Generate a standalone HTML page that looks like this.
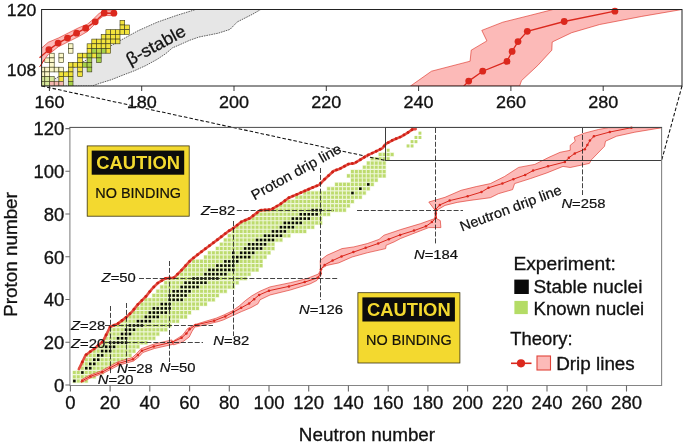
<!DOCTYPE html>
<html lang="en"><head><meta charset="utf-8"><title>Nuclear landscape</title>
<style>html,body{margin:0;padding:0;background:#fff}body{width:685px;height:446px;overflow:hidden}svg{display:block}text{font-family:'Liberation Sans', Arial, Helvetica, sans-serif;fill:#111;stroke:#111}</style></head><body>
<svg width="685" height="446" viewBox="0 0 685 446">
<rect width="685" height="446" fill="#fff"/>
<defs><clipPath id="kc"><polygon points="72,400 72,370.6 77.6,369.9 78.1,368.3 84.7,354.4 93.4,347.9 102.1,340.6 106.5,331.9 109.4,326 116.7,323.1 125.4,316.6 131.3,310.8 136.9,303.8 145.6,295.1 151.4,287.8 157.3,282 164.5,277.6 173.3,276.9 180.6,269.6 187.8,261.6 190.1,259.2 199.6,251.7 208.3,245.2 217.1,238.6 227.3,230.6 233.1,227 240.4,221.1 249.1,217.5 259.3,209.5 270.2,208.8 279,203.7 287.7,197.2 297.9,192.8 309.5,187.7 318.3,184.1 324.1,178.2 332.8,170.2 339.2,167.9 347.9,163.2 353.8,162.4 359.6,158.9 366.1,154.8 374.1,151.1 381.4,147.5 385.1,143.1 391.6,139.5 400.4,135.8 407.6,131.5 412,128.3 414.9,128.3 700,127 700,400"/></clipPath></defs>
<g id="known" clip-path="url(#kc)">
<path d="M72.4 381H88.3" stroke="#ebf5d0" stroke-width="4.3" fill="none"/>
<path d="M72.4 376.8H96.2" stroke="#ebf5d0" stroke-width="4.3" fill="none"/>
<path d="M72.4 372.5H104.2" stroke="#ebf5d0" stroke-width="4.3" fill="none"/>
<path d="M76.4 368.2H108.1" stroke="#ebf5d0" stroke-width="4.3" fill="none"/>
<path d="M80.3 363.9H120.1" stroke="#ebf5d0" stroke-width="4.3" fill="none"/>
<path d="M84.3 359.7H128" stroke="#ebf5d0" stroke-width="4.3" fill="none"/>
<path d="M84.3 355.4H132" stroke="#ebf5d0" stroke-width="4.3" fill="none"/>
<path d="M88.3 351.1H135.9" stroke="#ebf5d0" stroke-width="4.3" fill="none"/>
<path d="M92.2 346.8H139.9" stroke="#ebf5d0" stroke-width="4.3" fill="none"/>
<path d="M96.2 342.6H147.9" stroke="#ebf5d0" stroke-width="4.3" fill="none"/>
<path d="M100.2 338.3H155.8" stroke="#ebf5d0" stroke-width="4.3" fill="none"/>
<path d="M104.2 334H159.8" stroke="#ebf5d0" stroke-width="4.3" fill="none"/>
<path d="M108.1 329.7H167.7" stroke="#ebf5d0" stroke-width="4.3" fill="none"/>
<path d="M108.1 325.5H171.7" stroke="#ebf5d0" stroke-width="4.3" fill="none"/>
<path d="M116.1 321.2H179.6" stroke="#ebf5d0" stroke-width="4.3" fill="none"/>
<path d="M120 316.9H187.6" stroke="#ebf5d0" stroke-width="4.3" fill="none"/>
<path d="M128 312.6H191.5" stroke="#ebf5d0" stroke-width="4.3" fill="none"/>
<path d="M135.9 308.4H199.5" stroke="#ebf5d0" stroke-width="4.3" fill="none"/>
<path d="M139.9 304.1H207.4" stroke="#ebf5d0" stroke-width="4.3" fill="none"/>
<path d="M143.9 299.8H215.4" stroke="#ebf5d0" stroke-width="4.3" fill="none"/>
<path d="M151.8 295.5H219.3" stroke="#ebf5d0" stroke-width="4.3" fill="none"/>
<path d="M155.8 291.3H227.3" stroke="#ebf5d0" stroke-width="4.3" fill="none"/>
<path d="M159.8 287H235.2" stroke="#ebf5d0" stroke-width="4.3" fill="none"/>
<path d="M163.7 282.7H239.2" stroke="#ebf5d0" stroke-width="4.3" fill="none"/>
<path d="M167.7 278.5H247.2" stroke="#ebf5d0" stroke-width="4.3" fill="none"/>
<path d="M175.7 274.2H251.1" stroke="#ebf5d0" stroke-width="4.3" fill="none"/>
<path d="M179.6 269.9H259.1" stroke="#ebf5d0" stroke-width="4.3" fill="none"/>
<path d="M183.6 265.6H263" stroke="#ebf5d0" stroke-width="4.3" fill="none"/>
<path d="M191.5 261.4H263" stroke="#ebf5d0" stroke-width="4.3" fill="none"/>
<path d="M203.5 257.1H267" stroke="#ebf5d0" stroke-width="4.3" fill="none"/>
<path d="M207.4 252.8H271" stroke="#ebf5d0" stroke-width="4.3" fill="none"/>
<path d="M215.4 248.5H275" stroke="#ebf5d0" stroke-width="4.3" fill="none"/>
<path d="M219.4 244.3H275" stroke="#ebf5d0" stroke-width="4.3" fill="none"/>
<path d="M223.3 240H282.9" stroke="#ebf5d0" stroke-width="4.3" fill="none"/>
<path d="M227.3 235.7H290.8" stroke="#ebf5d0" stroke-width="4.3" fill="none"/>
<path d="M231.3 231.4H306.7" stroke="#ebf5d0" stroke-width="4.3" fill="none"/>
<path d="M235.2 227.2H314.7" stroke="#ebf5d0" stroke-width="4.3" fill="none"/>
<path d="M239.2 222.9H322.6" stroke="#ebf5d0" stroke-width="4.3" fill="none"/>
<path d="M243.2 218.6H322.6" stroke="#ebf5d0" stroke-width="4.3" fill="none"/>
<path d="M251.1 214.3H330.6" stroke="#ebf5d0" stroke-width="4.3" fill="none"/>
<path d="M259.1 210.1H346.5" stroke="#ebf5d0" stroke-width="4.3" fill="none"/>
<path d="M271 205.8H350.4" stroke="#ebf5d0" stroke-width="4.3" fill="none"/>
<path d="M282.9 201.5H354.4" stroke="#ebf5d0" stroke-width="4.3" fill="none"/>
<path d="M294.8 197.2H362.3" stroke="#ebf5d0" stroke-width="4.3" fill="none"/>
<path d="M302.8 193H366.3" stroke="#ebf5d0" stroke-width="4.3" fill="none"/>
<path d="M326.6 188.7H370.3" stroke="#ebf5d0" stroke-width="4.3" fill="none"/>
<path d="M334.5 184.4H374.3" stroke="#ebf5d0" stroke-width="4.3" fill="none"/>
<path d="M350.4 180.1H378.2" stroke="#ebf5d0" stroke-width="4.3" fill="none"/>
<path d="M346.5 175.9H386.2" stroke="#ebf5d0" stroke-width="4.3" fill="none"/>
<path d="M350.4 171.6H386.2" stroke="#ebf5d0" stroke-width="4.3" fill="none"/>
<path d="M362.3 167.3H386.2" stroke="#ebf5d0" stroke-width="4.3" fill="none"/>
<path d="M366.3 163.1H386.2" stroke="#ebf5d0" stroke-width="4.3" fill="none"/>
<path d="M370.3 158.8H390.1" stroke="#ebf5d0" stroke-width="4.3" fill="none"/>
<path d="M378.2 154.5H394.1" stroke="#ebf5d0" stroke-width="4.3" fill="none"/>
<path d="M72.9 381H87.7" stroke="#bddb6e" stroke-width="3.1" stroke-dasharray="2.850 1.122" fill="none"/>
<path d="M72.9 376.8H95.7" stroke="#bddb6e" stroke-width="3.1" stroke-dasharray="2.850 1.122" fill="none"/>
<path d="M72.9 372.5H103.6" stroke="#bddb6e" stroke-width="3.1" stroke-dasharray="2.850 1.122" fill="none"/>
<path d="M76.9 368.2H107.6" stroke="#bddb6e" stroke-width="3.1" stroke-dasharray="2.850 1.122" fill="none"/>
<path d="M80.9 363.9H119.5" stroke="#bddb6e" stroke-width="3.1" stroke-dasharray="2.850 1.122" fill="none"/>
<path d="M84.9 359.7H127.4" stroke="#bddb6e" stroke-width="3.1" stroke-dasharray="2.850 1.122" fill="none"/>
<path d="M84.9 355.4H131.4" stroke="#bddb6e" stroke-width="3.1" stroke-dasharray="2.850 1.122" fill="none"/>
<path d="M88.8 351.1H135.4" stroke="#bddb6e" stroke-width="3.1" stroke-dasharray="2.850 1.122" fill="none"/>
<path d="M92.8 346.8H139.3" stroke="#bddb6e" stroke-width="3.1" stroke-dasharray="2.850 1.122" fill="none"/>
<path d="M96.8 342.6H147.3" stroke="#bddb6e" stroke-width="3.1" stroke-dasharray="2.850 1.122" fill="none"/>
<path d="M100.8 338.3H155.2" stroke="#bddb6e" stroke-width="3.1" stroke-dasharray="2.850 1.122" fill="none"/>
<path d="M104.7 334H159.2" stroke="#bddb6e" stroke-width="3.1" stroke-dasharray="2.850 1.122" fill="none"/>
<path d="M108.7 329.7H167.2" stroke="#bddb6e" stroke-width="3.1" stroke-dasharray="2.850 1.122" fill="none"/>
<path d="M108.7 325.5H171.1" stroke="#bddb6e" stroke-width="3.1" stroke-dasharray="2.850 1.122" fill="none"/>
<path d="M116.6 321.2H179.1" stroke="#bddb6e" stroke-width="3.1" stroke-dasharray="2.850 1.122" fill="none"/>
<path d="M120.6 316.9H187" stroke="#bddb6e" stroke-width="3.1" stroke-dasharray="2.850 1.122" fill="none"/>
<path d="M128.6 312.6H191" stroke="#bddb6e" stroke-width="3.1" stroke-dasharray="2.850 1.122" fill="none"/>
<path d="M136.5 308.4H198.9" stroke="#bddb6e" stroke-width="3.1" stroke-dasharray="2.850 1.122" fill="none"/>
<path d="M140.5 304.1H206.9" stroke="#bddb6e" stroke-width="3.1" stroke-dasharray="2.850 1.122" fill="none"/>
<path d="M144.4 299.8H214.8" stroke="#bddb6e" stroke-width="3.1" stroke-dasharray="2.850 1.122" fill="none"/>
<path d="M152.4 295.5H218.8" stroke="#bddb6e" stroke-width="3.1" stroke-dasharray="2.850 1.122" fill="none"/>
<path d="M156.4 291.3H226.7" stroke="#bddb6e" stroke-width="3.1" stroke-dasharray="2.850 1.122" fill="none"/>
<path d="M160.3 287H234.7" stroke="#bddb6e" stroke-width="3.1" stroke-dasharray="2.850 1.122" fill="none"/>
<path d="M164.3 282.7H238.6" stroke="#bddb6e" stroke-width="3.1" stroke-dasharray="2.850 1.122" fill="none"/>
<path d="M168.3 278.5H246.6" stroke="#bddb6e" stroke-width="3.1" stroke-dasharray="2.850 1.122" fill="none"/>
<path d="M176.2 274.2H250.6" stroke="#bddb6e" stroke-width="3.1" stroke-dasharray="2.850 1.122" fill="none"/>
<path d="M180.2 269.9H258.5" stroke="#bddb6e" stroke-width="3.1" stroke-dasharray="2.850 1.122" fill="none"/>
<path d="M184.2 265.6H262.5" stroke="#bddb6e" stroke-width="3.1" stroke-dasharray="2.850 1.122" fill="none"/>
<path d="M192.1 261.4H262.5" stroke="#bddb6e" stroke-width="3.1" stroke-dasharray="2.850 1.122" fill="none"/>
<path d="M204 257.1H266.5" stroke="#bddb6e" stroke-width="3.1" stroke-dasharray="2.850 1.122" fill="none"/>
<path d="M208 252.8H270.4" stroke="#bddb6e" stroke-width="3.1" stroke-dasharray="2.850 1.122" fill="none"/>
<path d="M215.9 248.5H274.4" stroke="#bddb6e" stroke-width="3.1" stroke-dasharray="2.850 1.122" fill="none"/>
<path d="M219.9 244.3H274.4" stroke="#bddb6e" stroke-width="3.1" stroke-dasharray="2.850 1.122" fill="none"/>
<path d="M223.9 240H282.3" stroke="#bddb6e" stroke-width="3.1" stroke-dasharray="2.850 1.122" fill="none"/>
<path d="M227.9 235.7H290.3" stroke="#bddb6e" stroke-width="3.1" stroke-dasharray="2.850 1.122" fill="none"/>
<path d="M231.8 231.4H306.2" stroke="#bddb6e" stroke-width="3.1" stroke-dasharray="2.850 1.122" fill="none"/>
<path d="M235.8 227.2H314.1" stroke="#bddb6e" stroke-width="3.1" stroke-dasharray="2.850 1.122" fill="none"/>
<path d="M239.8 222.9H322.1" stroke="#bddb6e" stroke-width="3.1" stroke-dasharray="2.850 1.122" fill="none"/>
<path d="M243.7 218.6H322.1" stroke="#bddb6e" stroke-width="3.1" stroke-dasharray="2.850 1.122" fill="none"/>
<path d="M251.7 214.3H330" stroke="#bddb6e" stroke-width="3.1" stroke-dasharray="2.850 1.122" fill="none"/>
<path d="M259.6 210.1H345.9" stroke="#bddb6e" stroke-width="3.1" stroke-dasharray="2.850 1.122" fill="none"/>
<path d="M271.5 205.8H349.9" stroke="#bddb6e" stroke-width="3.1" stroke-dasharray="2.850 1.122" fill="none"/>
<path d="M283.5 201.5H353.8" stroke="#bddb6e" stroke-width="3.1" stroke-dasharray="2.850 1.122" fill="none"/>
<path d="M295.4 197.2H361.8" stroke="#bddb6e" stroke-width="3.1" stroke-dasharray="2.850 1.122" fill="none"/>
<path d="M303.3 193H365.8" stroke="#bddb6e" stroke-width="3.1" stroke-dasharray="2.850 1.122" fill="none"/>
<path d="M327.2 188.7H369.7" stroke="#bddb6e" stroke-width="3.1" stroke-dasharray="2.850 1.122" fill="none"/>
<path d="M335.1 184.4H373.7" stroke="#bddb6e" stroke-width="3.1" stroke-dasharray="2.850 1.122" fill="none"/>
<path d="M351 180.1H377.7" stroke="#bddb6e" stroke-width="3.1" stroke-dasharray="2.850 1.122" fill="none"/>
<path d="M347 175.9H385.6" stroke="#bddb6e" stroke-width="3.1" stroke-dasharray="2.850 1.122" fill="none"/>
<path d="M351 171.6H385.6" stroke="#bddb6e" stroke-width="3.1" stroke-dasharray="2.850 1.122" fill="none"/>
<path d="M362.9 167.3H385.6" stroke="#bddb6e" stroke-width="3.1" stroke-dasharray="2.850 1.122" fill="none"/>
<path d="M366.9 163.1H385.6" stroke="#bddb6e" stroke-width="3.1" stroke-dasharray="2.850 1.122" fill="none"/>
<path d="M370.8 158.8H389.6" stroke="#bddb6e" stroke-width="3.1" stroke-dasharray="2.850 1.122" fill="none"/>
<path d="M378.8 154.5H393.6" stroke="#bddb6e" stroke-width="3.1" stroke-dasharray="2.850 1.122" fill="none"/>
<rect x="386.7" y="148.7" width="2.9" height="3.1" fill="#bddb6e"/>
<rect x="406.6" y="144.4" width="2.9" height="3.1" fill="#bddb6e"/>
<rect x="410.6" y="144.4" width="2.9" height="3.1" fill="#bddb6e"/>
<rect x="410.6" y="140.1" width="2.9" height="3.1" fill="#bddb6e"/>
<rect x="414.5" y="140.1" width="2.9" height="3.1" fill="#bddb6e"/>
<rect x="414.5" y="135.9" width="2.9" height="3.1" fill="#bddb6e"/>
<rect x="418.5" y="135.9" width="2.9" height="3.1" fill="#bddb6e"/>
<rect x="418.5" y="131.6" width="2.9" height="3.1" fill="#bddb6e"/>
</g>
<g id="stable" fill="#0a0a0a">
<rect x="73.1" y="379.7" width="2.5" height="2.6"/>
<rect x="81.1" y="371.2" width="2.5" height="2.6"/>
<rect x="85" y="366.9" width="2.5" height="2.6"/>
<rect x="89" y="366.9" width="2.5" height="2.6"/>
<rect x="89" y="362.6" width="2.5" height="2.6"/>
<rect x="93" y="362.6" width="2.5" height="2.6"/>
<rect x="93" y="358.4" width="2.5" height="2.6"/>
<rect x="97" y="358.4" width="2.5" height="2.6"/>
<rect x="97" y="354.1" width="2.5" height="2.6"/>
<rect x="100.9" y="354.1" width="2.5" height="2.6"/>
<rect x="100.9" y="349.8" width="2.5" height="2.6"/>
<rect x="104.9" y="349.8" width="2.5" height="2.6"/>
<rect x="108.9" y="349.8" width="2.5" height="2.6"/>
<rect x="104.9" y="345.5" width="2.5" height="2.6"/>
<rect x="108.9" y="345.5" width="2.5" height="2.6"/>
<rect x="112.8" y="345.5" width="2.5" height="2.6"/>
<rect x="108.9" y="341.3" width="2.5" height="2.6"/>
<rect x="112.8" y="341.3" width="2.5" height="2.6"/>
<rect x="116.8" y="341.3" width="2.5" height="2.6"/>
<rect x="120.8" y="341.3" width="2.5" height="2.6"/>
<rect x="124.8" y="341.3" width="2.5" height="2.6"/>
<rect x="116.8" y="337" width="2.5" height="2.6"/>
<rect x="120.8" y="337" width="2.5" height="2.6"/>
<rect x="124.8" y="337" width="2.5" height="2.6"/>
<rect x="120.8" y="332.7" width="2.5" height="2.6"/>
<rect x="124.8" y="332.7" width="2.5" height="2.6"/>
<rect x="128.7" y="332.7" width="2.5" height="2.6"/>
<rect x="124.8" y="328.4" width="2.5" height="2.6"/>
<rect x="128.7" y="328.4" width="2.5" height="2.6"/>
<rect x="132.7" y="328.4" width="2.5" height="2.6"/>
<rect x="128.7" y="324.2" width="2.5" height="2.6"/>
<rect x="132.7" y="324.2" width="2.5" height="2.6"/>
<rect x="136.7" y="324.2" width="2.5" height="2.6"/>
<rect x="140.6" y="324.2" width="2.5" height="2.6"/>
<rect x="136.7" y="319.9" width="2.5" height="2.6"/>
<rect x="140.6" y="319.9" width="2.5" height="2.6"/>
<rect x="144.6" y="319.9" width="2.5" height="2.6"/>
<rect x="148.6" y="319.9" width="2.5" height="2.6"/>
<rect x="144.6" y="315.6" width="2.5" height="2.6"/>
<rect x="148.6" y="315.6" width="2.5" height="2.6"/>
<rect x="152.6" y="315.6" width="2.5" height="2.6"/>
<rect x="156.5" y="315.6" width="2.5" height="2.6"/>
<rect x="148.6" y="311.3" width="2.5" height="2.6"/>
<rect x="152.6" y="311.3" width="2.5" height="2.6"/>
<rect x="156.5" y="311.3" width="2.5" height="2.6"/>
<rect x="160.5" y="311.3" width="2.5" height="2.6"/>
<rect x="164.5" y="311.3" width="2.5" height="2.6"/>
<rect x="152.6" y="307.1" width="2.5" height="2.6"/>
<rect x="156.5" y="307.1" width="2.5" height="2.6"/>
<rect x="160.5" y="307.1" width="2.5" height="2.6"/>
<rect x="164.5" y="307.1" width="2.5" height="2.6"/>
<rect x="168.4" y="307.1" width="2.5" height="2.6"/>
<rect x="160.5" y="302.8" width="2.5" height="2.6"/>
<rect x="164.5" y="302.8" width="2.5" height="2.6"/>
<rect x="168.4" y="302.8" width="2.5" height="2.6"/>
<rect x="168.4" y="298.5" width="2.5" height="2.6"/>
<rect x="172.4" y="298.5" width="2.5" height="2.6"/>
<rect x="176.4" y="298.5" width="2.5" height="2.6"/>
<rect x="180.4" y="298.5" width="2.5" height="2.6"/>
<rect x="168.4" y="294.2" width="2.5" height="2.6"/>
<rect x="172.4" y="294.2" width="2.5" height="2.6"/>
<rect x="176.4" y="294.2" width="2.5" height="2.6"/>
<rect x="180.4" y="294.2" width="2.5" height="2.6"/>
<rect x="184.3" y="294.2" width="2.5" height="2.6"/>
<rect x="172.4" y="290" width="2.5" height="2.6"/>
<rect x="176.4" y="290" width="2.5" height="2.6"/>
<rect x="180.4" y="290" width="2.5" height="2.6"/>
<rect x="184.3" y="290" width="2.5" height="2.6"/>
<rect x="188.3" y="290" width="2.5" height="2.6"/>
<rect x="180.4" y="285.7" width="2.5" height="2.6"/>
<rect x="184.3" y="285.7" width="2.5" height="2.6"/>
<rect x="188.3" y="285.7" width="2.5" height="2.6"/>
<rect x="192.3" y="285.7" width="2.5" height="2.6"/>
<rect x="196.3" y="285.7" width="2.5" height="2.6"/>
<rect x="184.3" y="281.4" width="2.5" height="2.6"/>
<rect x="188.3" y="281.4" width="2.5" height="2.6"/>
<rect x="192.3" y="281.4" width="2.5" height="2.6"/>
<rect x="196.3" y="281.4" width="2.5" height="2.6"/>
<rect x="200.2" y="281.4" width="2.5" height="2.6"/>
<rect x="204.2" y="281.4" width="2.5" height="2.6"/>
<rect x="192.3" y="277.2" width="2.5" height="2.6"/>
<rect x="196.3" y="277.2" width="2.5" height="2.6"/>
<rect x="200.2" y="277.2" width="2.5" height="2.6"/>
<rect x="204.2" y="277.2" width="2.5" height="2.6"/>
<rect x="208.2" y="277.2" width="2.5" height="2.6"/>
<rect x="212.1" y="277.2" width="2.5" height="2.6"/>
<rect x="216.1" y="277.2" width="2.5" height="2.6"/>
<rect x="204.2" y="272.9" width="2.5" height="2.6"/>
<rect x="208.2" y="272.9" width="2.5" height="2.6"/>
<rect x="212.1" y="272.9" width="2.5" height="2.6"/>
<rect x="216.1" y="272.9" width="2.5" height="2.6"/>
<rect x="220.1" y="272.9" width="2.5" height="2.6"/>
<rect x="224.1" y="272.9" width="2.5" height="2.6"/>
<rect x="208.2" y="268.6" width="2.5" height="2.6"/>
<rect x="212.1" y="268.6" width="2.5" height="2.6"/>
<rect x="216.1" y="268.6" width="2.5" height="2.6"/>
<rect x="220.1" y="268.6" width="2.5" height="2.6"/>
<rect x="224.1" y="268.6" width="2.5" height="2.6"/>
<rect x="228" y="268.6" width="2.5" height="2.6"/>
<rect x="232" y="268.6" width="2.5" height="2.6"/>
<rect x="216.1" y="264.3" width="2.5" height="2.6"/>
<rect x="220.1" y="264.3" width="2.5" height="2.6"/>
<rect x="224.1" y="264.3" width="2.5" height="2.6"/>
<rect x="228" y="264.3" width="2.5" height="2.6"/>
<rect x="232" y="264.3" width="2.5" height="2.6"/>
<rect x="224.1" y="260.1" width="2.5" height="2.6"/>
<rect x="228" y="260.1" width="2.5" height="2.6"/>
<rect x="232" y="260.1" width="2.5" height="2.6"/>
<rect x="236" y="260.1" width="2.5" height="2.6"/>
<rect x="232" y="255.8" width="2.5" height="2.6"/>
<rect x="236" y="255.8" width="2.5" height="2.6"/>
<rect x="239.9" y="255.8" width="2.5" height="2.6"/>
<rect x="243.9" y="255.8" width="2.5" height="2.6"/>
<rect x="247.9" y="255.8" width="2.5" height="2.6"/>
<rect x="232" y="251.5" width="2.5" height="2.6"/>
<rect x="239.9" y="251.5" width="2.5" height="2.6"/>
<rect x="243.9" y="251.5" width="2.5" height="2.6"/>
<rect x="247.9" y="251.5" width="2.5" height="2.6"/>
<rect x="251.9" y="251.5" width="2.5" height="2.6"/>
<rect x="243.9" y="247.2" width="2.5" height="2.6"/>
<rect x="247.9" y="247.2" width="2.5" height="2.6"/>
<rect x="251.9" y="247.2" width="2.5" height="2.6"/>
<rect x="255.8" y="247.2" width="2.5" height="2.6"/>
<rect x="259.8" y="247.2" width="2.5" height="2.6"/>
<rect x="247.9" y="243" width="2.5" height="2.6"/>
<rect x="251.9" y="243" width="2.5" height="2.6"/>
<rect x="255.8" y="243" width="2.5" height="2.6"/>
<rect x="259.8" y="243" width="2.5" height="2.6"/>
<rect x="263.8" y="243" width="2.5" height="2.6"/>
<rect x="255.8" y="238.7" width="2.5" height="2.6"/>
<rect x="259.8" y="238.7" width="2.5" height="2.6"/>
<rect x="263.8" y="238.7" width="2.5" height="2.6"/>
<rect x="267.8" y="238.7" width="2.5" height="2.6"/>
<rect x="271.7" y="238.7" width="2.5" height="2.6"/>
<rect x="263.8" y="234.4" width="2.5" height="2.6"/>
<rect x="267.8" y="234.4" width="2.5" height="2.6"/>
<rect x="271.7" y="234.4" width="2.5" height="2.6"/>
<rect x="275.7" y="234.4" width="2.5" height="2.6"/>
<rect x="279.7" y="234.4" width="2.5" height="2.6"/>
<rect x="271.7" y="230.1" width="2.5" height="2.6"/>
<rect x="275.7" y="230.1" width="2.5" height="2.6"/>
<rect x="279.7" y="230.1" width="2.5" height="2.6"/>
<rect x="283.6" y="230.1" width="2.5" height="2.6"/>
<rect x="279.7" y="225.9" width="2.5" height="2.6"/>
<rect x="283.6" y="225.9" width="2.5" height="2.6"/>
<rect x="287.6" y="225.9" width="2.5" height="2.6"/>
<rect x="291.6" y="225.9" width="2.5" height="2.6"/>
<rect x="283.6" y="221.6" width="2.5" height="2.6"/>
<rect x="287.6" y="221.6" width="2.5" height="2.6"/>
<rect x="291.6" y="221.6" width="2.5" height="2.6"/>
<rect x="295.6" y="221.6" width="2.5" height="2.6"/>
<rect x="299.5" y="221.6" width="2.5" height="2.6"/>
<rect x="291.6" y="217.3" width="2.5" height="2.6"/>
<rect x="295.6" y="217.3" width="2.5" height="2.6"/>
<rect x="299.5" y="217.3" width="2.5" height="2.6"/>
<rect x="303.5" y="217.3" width="2.5" height="2.6"/>
<rect x="307.5" y="217.3" width="2.5" height="2.6"/>
<rect x="299.5" y="213" width="2.5" height="2.6"/>
<rect x="303.5" y="213" width="2.5" height="2.6"/>
<rect x="307.5" y="213" width="2.5" height="2.6"/>
<rect x="311.4" y="213" width="2.5" height="2.6"/>
<rect x="315.4" y="213" width="2.5" height="2.6"/>
<rect x="311.4" y="208.8" width="2.5" height="2.6"/>
<rect x="315.4" y="208.8" width="2.5" height="2.6"/>
<rect x="319.4" y="208.8" width="2.5" height="2.6"/>
<rect x="351.2" y="191.7" width="2.5" height="2.6"/>
<rect x="359.1" y="187.4" width="2.5" height="2.6"/>
<rect x="367" y="183.1" width="2.5" height="2.6"/>
</g>
<polygon points="80.5,381.7 82.9,381.8 90.8,377.7 102.8,373.5 110.9,369.3 118.7,365.2 133.7,361 139.3,356.4 142.9,352.5 154.4,348.5 172.8,344.4 173.5,340.9 182.4,335.3 187.5,328.6 193.7,325.2 194.8,324.6 204.9,321.5 216.1,318.2 224.2,314.8 232,311.1 239.1,306.1 245.4,300.6 251.7,295.9 260,291.2 270,286.9 290.3,282.7 306.5,278.7 318.5,274 320.4,270 320.2,260.4 326.9,255.3 342,248.6 353.8,246.9 367.2,243.6 379,239.4 384,235.2 394.1,231.8 400.6,229.6 420.7,223.6 434.9,218.5 435.2,210.5 428.8,202 445,197.3 461.1,190.3 476.2,186.6 490.4,183.6 504.5,176.5 518.6,167.4 534.8,164.4 548.9,157.3 560.1,152.3 570.2,150.3 570.2,145.3 575.2,141.2 574.2,137.2 584.3,133.2 598.4,129.5 608.5,127.7 662,127.7 634.8,132.2 616.6,136.2 605.5,141.2 604.5,146.3 591.4,159.8 589.4,163.4 570.2,167.5 563,166.4 546.9,172.9 530.7,178.5 514.6,183.6 512.6,189.6 498.4,193.7 490.4,197.7 470,200.4 457.1,202.4 445,205.4 436.3,210.5 436.5,218.5 440.3,220.6 440.9,227.6 428.8,227.6 420.7,230.7 400.6,238.5 394.1,241.9 386.1,245.3 385.7,248.6 367.2,252.8 352.1,257 338.7,262.9 326.9,265.4 321,268.8 320.8,276 316.8,280.5 310.1,283.9 290.3,290 270,295 260,299.8 258,303.8 250.9,307.7 241.5,311.6 232.8,315.5 223.4,319.9 218.3,321.6 207.1,324.2 197,326.7 194.8,326.9 192,331.4 189.2,337 182.4,342.1 173.5,344.9 171.8,339.9 153.2,344.3 140.9,348.9 136.6,353.6 132.2,357.6 117.5,361.9 109.4,366.4 101.6,370.8 89.7,375.2 81.7,379.6 81.5,382.6" fill="#fcbab8" stroke="#db281d" stroke-width="0.6" stroke-linejoin="round"/>
<polyline points="82.3,380.7 90.3,376.4 102.2,372.1 110.1,367.8 118.1,363.6 133,359.3 137.9,355 141.9,350.7 153.8,346.4 172.3,342.1 181.6,337.8 186.4,333.5 189.6,329.3 195.5,325 214.2,320.7 225.3,316.4 233.3,312.1 241.2,307.8 249.1,303.5 254.1,299.2 259.1,295 269,290.7 288.9,286.4 304.7,282.1 317.7,277.8 320.6,273.5 321,269.2 324.6,264.9 332.6,260.6 341.5,256.4 353.4,252.1 365.7,247.8 378.2,243.5 388.8,239.2 400.1,234.9 414,230.6 425.9,226.3 431.9,222.1 435.8,217.8 435.8,213.5 435.8,209.2 439.8,204.9 449.7,200.6 467.6,196.3 481.5,192 488.5,187.8 502.4,183.5 513.3,179.2 525.2,174.9 533.1,170.6 548,166.3 564.9,162 568.9,157.7 574.8,153.4 584.8,149.2 587.4,144.9 589.9,140.6 593.9,136.3 609.8,132 631.4,127.7" fill="none" stroke="#db281d" stroke-width="1"/>
<g fill="#db281d">
<circle cx="82.3" cy="380.7" r="1.25"/>
<circle cx="90.3" cy="376.4" r="1.25"/>
<circle cx="102.2" cy="372.1" r="1.25"/>
<circle cx="110.1" cy="367.8" r="1.25"/>
<circle cx="118.1" cy="363.6" r="1.25"/>
<circle cx="133" cy="359.3" r="1.25"/>
<circle cx="137.9" cy="355" r="1.25"/>
<circle cx="141.9" cy="350.7" r="1.25"/>
<circle cx="153.8" cy="346.4" r="1.25"/>
<circle cx="172.3" cy="342.1" r="1.25"/>
<circle cx="181.6" cy="337.8" r="1.25"/>
<circle cx="186.4" cy="333.5" r="1.25"/>
<circle cx="189.6" cy="329.3" r="1.25"/>
<circle cx="195.5" cy="325" r="1.25"/>
<circle cx="214.2" cy="320.7" r="1.25"/>
<circle cx="225.3" cy="316.4" r="1.25"/>
<circle cx="233.3" cy="312.1" r="1.25"/>
<circle cx="241.2" cy="307.8" r="1.25"/>
<circle cx="249.1" cy="303.5" r="1.25"/>
<circle cx="254.1" cy="299.2" r="1.25"/>
<circle cx="259.1" cy="295" r="1.25"/>
<circle cx="269" cy="290.7" r="1.25"/>
<circle cx="288.9" cy="286.4" r="1.25"/>
<circle cx="304.7" cy="282.1" r="1.25"/>
<circle cx="317.7" cy="277.8" r="1.25"/>
<circle cx="320.6" cy="273.5" r="1.25"/>
<circle cx="321" cy="269.2" r="1.25"/>
<circle cx="324.6" cy="264.9" r="1.25"/>
<circle cx="332.6" cy="260.6" r="1.25"/>
<circle cx="341.5" cy="256.4" r="1.25"/>
<circle cx="353.4" cy="252.1" r="1.25"/>
<circle cx="365.7" cy="247.8" r="1.25"/>
<circle cx="378.2" cy="243.5" r="1.25"/>
<circle cx="388.8" cy="239.2" r="1.25"/>
<circle cx="400.1" cy="234.9" r="1.25"/>
<circle cx="414" cy="230.6" r="1.25"/>
<circle cx="425.9" cy="226.3" r="1.25"/>
<circle cx="431.9" cy="222.1" r="1.25"/>
<circle cx="435.8" cy="217.8" r="1.25"/>
<circle cx="435.8" cy="213.5" r="1.25"/>
<circle cx="435.8" cy="209.2" r="1.25"/>
<circle cx="439.8" cy="204.9" r="1.25"/>
<circle cx="449.7" cy="200.6" r="1.25"/>
<circle cx="467.6" cy="196.3" r="1.25"/>
<circle cx="481.5" cy="192" r="1.25"/>
<circle cx="488.5" cy="187.8" r="1.25"/>
<circle cx="502.4" cy="183.5" r="1.25"/>
<circle cx="513.3" cy="179.2" r="1.25"/>
<circle cx="525.2" cy="174.9" r="1.25"/>
<circle cx="533.1" cy="170.6" r="1.25"/>
<circle cx="548" cy="166.3" r="1.25"/>
<circle cx="564.9" cy="162" r="1.25"/>
<circle cx="568.9" cy="157.7" r="1.25"/>
<circle cx="574.8" cy="153.4" r="1.25"/>
<circle cx="584.8" cy="149.2" r="1.25"/>
<circle cx="587.4" cy="144.9" r="1.25"/>
<circle cx="589.9" cy="140.6" r="1.25"/>
<circle cx="593.9" cy="136.3" r="1.25"/>
<circle cx="609.8" cy="132" r="1.25"/>
<circle cx="631.4" cy="127.7" r="1.25"/>
</g>
<path d="M41.6 86L385.5 160.5M682 86L661.6 160.5" stroke="#111" stroke-width="1.05" stroke-dasharray="3.6 2" fill="none"/>
<polyline points="78.9,369.1 85.5,355.2 94.2,348.7 102.9,341.4 107.3,332.7 110.2,326.8 117.5,323.9 126.2,317.4 132.1,311.6 137.7,304.6 146.4,295.9 152.2,288.6 158.1,282.8 165.3,278.4 174.1,277.7 181.4,270.4 188.6,262.4 190.9,260 200.4,252.5 209.1,246 217.9,239.4 228.1,231.4 233.9,227.8 241.2,221.9 249.9,218.3 260.1,210.3 271,209.6 279.8,204.5 288.5,198 298.7,193.6 310.3,188.5 319.1,184.9 324.9,179 333.6,171 340,168.7 348.7,164 354.6,163.2 360.4,159.7 366.9,155.6 374.9,151.9 382.2,148.3 385.9,143.9 392.4,140.3 401.2,136.6 408.4,132.3 412.8,129.1 415.7,129.1" fill="none" stroke="#e34c42" stroke-width="2.6" stroke-linejoin="round" stroke-linecap="round"/>
<g fill="#cf2016">
<circle cx="82.3" cy="361.9" r="1.45"/>
<circle cx="86.3" cy="354.6" r="1.45"/>
<circle cx="90.3" cy="351.6" r="1.45"/>
<circle cx="94.2" cy="348.7" r="1.45"/>
<circle cx="98.2" cy="345.3" r="1.45"/>
<circle cx="102.2" cy="342" r="1.45"/>
<circle cx="106.1" cy="335" r="1.45"/>
<circle cx="110.1" cy="326.9" r="1.45"/>
<circle cx="114.1" cy="325.2" r="1.45"/>
<circle cx="118.1" cy="323.5" r="1.45"/>
<circle cx="122" cy="320.5" r="1.45"/>
<circle cx="126" cy="317.5" r="1.45"/>
<circle cx="130" cy="313.7" r="1.45"/>
<circle cx="134" cy="309.3" r="1.45"/>
<circle cx="137.9" cy="304.4" r="1.45"/>
<circle cx="141.9" cy="300.4" r="1.45"/>
<circle cx="145.9" cy="296.4" r="1.45"/>
<circle cx="149.8" cy="291.6" r="1.45"/>
<circle cx="153.8" cy="287" r="1.45"/>
<circle cx="157.8" cy="283.1" r="1.45"/>
<circle cx="161.8" cy="280.6" r="1.45"/>
<circle cx="165.7" cy="278.4" r="1.45"/>
<circle cx="169.7" cy="278" r="1.45"/>
<circle cx="173.7" cy="277.7" r="1.45"/>
<circle cx="177.6" cy="274.1" r="1.45"/>
<circle cx="181.6" cy="270.1" r="1.45"/>
<circle cx="185.6" cy="265.7" r="1.45"/>
<circle cx="189.6" cy="261.4" r="1.45"/>
<circle cx="193.5" cy="257.9" r="1.45"/>
<circle cx="197.5" cy="254.8" r="1.45"/>
<circle cx="201.5" cy="251.7" r="1.45"/>
<circle cx="205.4" cy="248.7" r="1.45"/>
<circle cx="209.4" cy="245.8" r="1.45"/>
<circle cx="213.4" cy="242.8" r="1.45"/>
<circle cx="217.4" cy="239.8" r="1.45"/>
<circle cx="221.3" cy="236.7" r="1.45"/>
<circle cx="225.3" cy="233.6" r="1.45"/>
<circle cx="229.3" cy="230.7" r="1.45"/>
<circle cx="233.3" cy="228.2" r="1.45"/>
<circle cx="237.2" cy="225.1" r="1.45"/>
<circle cx="241.2" cy="221.9" r="1.45"/>
<circle cx="245.2" cy="220.3" r="1.45"/>
<circle cx="249.1" cy="218.6" r="1.45"/>
<circle cx="253.1" cy="215.8" r="1.45"/>
<circle cx="257.1" cy="212.7" r="1.45"/>
<circle cx="261.1" cy="210.2" r="1.45"/>
<circle cx="265" cy="210" r="1.45"/>
<circle cx="269" cy="209.7" r="1.45"/>
<circle cx="273" cy="208.5" r="1.45"/>
<circle cx="276.9" cy="206.1" r="1.45"/>
<circle cx="280.9" cy="203.7" r="1.45"/>
<circle cx="284.9" cy="200.7" r="1.45"/>
<circle cx="288.9" cy="197.8" r="1.45"/>
<circle cx="292.8" cy="196.1" r="1.45"/>
<circle cx="296.8" cy="194.4" r="1.45"/>
<circle cx="300.8" cy="192.7" r="1.45"/>
<circle cx="304.7" cy="190.9" r="1.45"/>
<circle cx="308.7" cy="189.2" r="1.45"/>
<circle cx="312.7" cy="187.5" r="1.45"/>
<circle cx="316.7" cy="185.9" r="1.45"/>
<circle cx="320.6" cy="183.3" r="1.45"/>
<circle cx="324.6" cy="179.3" r="1.45"/>
<circle cx="328.6" cy="175.6" r="1.45"/>
<circle cx="332.6" cy="172" r="1.45"/>
<circle cx="336.5" cy="169.9" r="1.45"/>
<circle cx="340.5" cy="168.4" r="1.45"/>
<circle cx="344.5" cy="166.3" r="1.45"/>
<circle cx="348.4" cy="164.1" r="1.45"/>
<circle cx="352.4" cy="163.5" r="1.45"/>
<circle cx="356.4" cy="162.1" r="1.45"/>
<circle cx="360.4" cy="159.7" r="1.45"/>
<circle cx="364.3" cy="157.2" r="1.45"/>
<circle cx="368.3" cy="154.9" r="1.45"/>
<circle cx="372.3" cy="153.1" r="1.45"/>
<circle cx="376.2" cy="151.2" r="1.45"/>
<circle cx="380.2" cy="149.3" r="1.45"/>
<circle cx="384.2" cy="145.9" r="1.45"/>
<circle cx="388.2" cy="142.6" r="1.45"/>
<circle cx="392.1" cy="140.4" r="1.45"/>
<circle cx="396.1" cy="138.7" r="1.45"/>
<circle cx="400.1" cy="137.1" r="1.45"/>
<circle cx="404" cy="134.9" r="1.45"/>
<circle cx="408" cy="132.5" r="1.45"/>
<circle cx="412" cy="129.7" r="1.45"/>
</g>
<path d="M236.8 210.5H334" stroke="#222" stroke-width="0.85" stroke-dasharray="5 1.9" fill="none"/>
<path d="M357 210.5H463" stroke="#222" stroke-width="0.85" stroke-dasharray="5 1.9" fill="none"/>
<path d="M139 278.5H339" stroke="#222" stroke-width="0.85" stroke-dasharray="5 1.9" fill="none"/>
<path d="M105 325.5H213" stroke="#222" stroke-width="0.85" stroke-dasharray="5 1.9" fill="none"/>
<path d="M105 342.5H203" stroke="#222" stroke-width="0.85" stroke-dasharray="5 1.9" fill="none"/>
<path d="M110.5 306V375" stroke="#222" stroke-width="0.85" stroke-dasharray="5 1.9" fill="none"/>
<path d="M126.5 303V364" stroke="#222" stroke-width="0.85" stroke-dasharray="5 1.9" fill="none"/>
<path d="M169.5 261V362" stroke="#222" stroke-width="0.85" stroke-dasharray="5 1.9" fill="none"/>
<path d="M233.5 221V336" stroke="#222" stroke-width="0.85" stroke-dasharray="5 1.9" fill="none"/>
<path d="M320.5 168V300" stroke="#222" stroke-width="0.85" stroke-dasharray="5 1.9" fill="none"/>
<path d="M435.5 128V245" stroke="#222" stroke-width="0.85" stroke-dasharray="5 1.9" fill="none"/>
<path d="M582.5 128V195" stroke="#222" stroke-width="0.85" stroke-dasharray="5 1.9" fill="none"/>
<rect x="385.5" y="127.5" width="276" height="33" fill="none" stroke="#2a2a2a" stroke-width="0.9"/>
<g stroke="#858585" stroke-width="1.1" fill="none">
<path d="M69.9 127.4V385.5H661.6V127.4"/>
<path d="M70.4 385.5v6M110.1 385.5v6M149.8 385.5v6M189.6 385.5v6M229.3 385.5v6M269 385.5v6M308.7 385.5v6M348.4 385.5v6M388.2 385.5v6M427.9 385.5v6M467.6 385.5v6M507.3 385.5v6M547 385.5v6M586.8 385.5v6M626.5 385.5v6M69.9 385h-4.5M69.9 342.3h-4.5M69.9 299.5h-4.5M69.9 256.8h-4.5M69.9 214h-4.5M69.9 171.3h-4.5M69.9 128.6h-4.5" stroke="#6a6a6a"/>
<path d="M69.4 127.4H662.1" stroke="#4a4a4a" stroke-width="1"/>
</g>
<text transform="translate(70.4 408.8) scale(1.055 1)" font-size="17.5" text-anchor="middle" stroke-width="0.3">0</text>
<text transform="translate(110.1 408.8) scale(1.055 1)" font-size="17.5" text-anchor="middle" stroke-width="0.3">20</text>
<text transform="translate(149.8 408.8) scale(1.055 1)" font-size="17.5" text-anchor="middle" stroke-width="0.3">40</text>
<text transform="translate(189.6 408.8) scale(1.055 1)" font-size="17.5" text-anchor="middle" stroke-width="0.3">60</text>
<text transform="translate(229.3 408.8) scale(1.055 1)" font-size="17.5" text-anchor="middle" stroke-width="0.3">80</text>
<text transform="translate(269 408.8) scale(1.055 1)" font-size="17.5" text-anchor="middle" stroke-width="0.3">100</text>
<text transform="translate(308.7 408.8) scale(1.055 1)" font-size="17.5" text-anchor="middle" stroke-width="0.3">120</text>
<text transform="translate(348.4 408.8) scale(1.055 1)" font-size="17.5" text-anchor="middle" stroke-width="0.3">140</text>
<text transform="translate(388.2 408.8) scale(1.055 1)" font-size="17.5" text-anchor="middle" stroke-width="0.3">160</text>
<text transform="translate(427.9 408.8) scale(1.055 1)" font-size="17.5" text-anchor="middle" stroke-width="0.3">180</text>
<text transform="translate(467.6 408.8) scale(1.055 1)" font-size="17.5" text-anchor="middle" stroke-width="0.3">200</text>
<text transform="translate(507.3 408.8) scale(1.055 1)" font-size="17.5" text-anchor="middle" stroke-width="0.3">220</text>
<text transform="translate(547 408.8) scale(1.055 1)" font-size="17.5" text-anchor="middle" stroke-width="0.3">240</text>
<text transform="translate(586.8 408.8) scale(1.055 1)" font-size="17.5" text-anchor="middle" stroke-width="0.3">260</text>
<text transform="translate(626.5 408.8) scale(1.055 1)" font-size="17.5" text-anchor="middle" stroke-width="0.3">280</text>
<text transform="translate(64.3 391.7) scale(1.055 1)" font-size="17.5" text-anchor="end" stroke-width="0.3">0</text>
<text transform="translate(64.3 349) scale(1.055 1)" font-size="17.5" text-anchor="end" stroke-width="0.3">20</text>
<text transform="translate(64.3 306.2) scale(1.055 1)" font-size="17.5" text-anchor="end" stroke-width="0.3">40</text>
<text transform="translate(64.3 263.5) scale(1.055 1)" font-size="17.5" text-anchor="end" stroke-width="0.3">60</text>
<text transform="translate(64.3 220.7) scale(1.055 1)" font-size="17.5" text-anchor="end" stroke-width="0.3">80</text>
<text transform="translate(64.3 178) scale(1.055 1)" font-size="17.5" text-anchor="end" stroke-width="0.3">100</text>
<text transform="translate(64.3 135.3) scale(1.055 1)" font-size="17.5" text-anchor="end" stroke-width="0.3">120</text>
<text transform="translate(367 441.2) scale(1.055 1)" font-size="17.9" text-anchor="middle" stroke-width="0.3">Neutron number</text>
<text transform="translate(16.6 254.5) rotate(-90) scale(1.055 1)" font-size="17.9" text-anchor="middle" stroke-width="0.3">Proton number</text>
<text transform="translate(201 214.7) scale(1.090 1)" font-size="13.6" text-anchor="start" stroke-width="0.2"><tspan font-style="italic">Z</tspan>=82</text>
<text transform="translate(101.6 281.7) scale(1.090 1)" font-size="13.6" text-anchor="start" stroke-width="0.2"><tspan font-style="italic">Z</tspan>=50</text>
<text transform="translate(71 329.5) scale(1.090 1)" font-size="13.6" text-anchor="start" stroke-width="0.2"><tspan font-style="italic">Z</tspan>=28</text>
<text transform="translate(71 347.5) scale(1.090 1)" font-size="13.6" text-anchor="start" stroke-width="0.2"><tspan font-style="italic">Z</tspan>=20</text>
<text transform="translate(97.7 383.6) scale(1.090 1)" font-size="13.6" text-anchor="start" stroke-width="0.2"><tspan font-style="italic">N</tspan>=20</text>
<text transform="translate(117 373.3) scale(1.090 1)" font-size="13.6" text-anchor="start" stroke-width="0.2"><tspan font-style="italic">N</tspan>=28</text>
<text transform="translate(159.7 372) scale(1.090 1)" font-size="13.6" text-anchor="start" stroke-width="0.2"><tspan font-style="italic">N</tspan>=50</text>
<text transform="translate(213.3 345.3) scale(1.090 1)" font-size="13.6" text-anchor="start" stroke-width="0.2"><tspan font-style="italic">N</tspan>=82</text>
<text transform="translate(299 313.5) scale(1.090 1)" font-size="13.6" text-anchor="start" stroke-width="0.2"><tspan font-style="italic">N</tspan>=126</text>
<text transform="translate(414 258.9) scale(1.090 1)" font-size="13.6" text-anchor="start" stroke-width="0.2"><tspan font-style="italic">N</tspan>=184</text>
<text transform="translate(561.4 208.3) scale(1.090 1)" font-size="13.6" text-anchor="start" stroke-width="0.2"><tspan font-style="italic">N</tspan>=258</text>
<text transform="translate(298.5 176) rotate(-29) scale(1.055 1)" font-size="14.2" text-anchor="middle" stroke-width="0.2">Proton drip line</text>
<text transform="translate(512.3 212.6) rotate(-20.7) scale(1.055 1)" font-size="13.9" text-anchor="middle" stroke-width="0.2">Neutron drip line</text>
<g transform="translate(87.2 145.9)">
<rect x="0" y="0" width="102" height="70.3" fill="#f3d92f" stroke="#3a3310" stroke-width="0.8"/>
<rect x="4.5" y="4.7" width="92.5" height="24.1" fill="#0c0c0c"/>
<text transform="translate(50.9 23.3) scale(1.040 1)" font-size="17.7" text-anchor="middle" stroke-width="0.3" font-weight="bold" style="fill:#f3d92f;stroke:none">CAUTION</text>
<text transform="translate(51 52.3) scale(1.030 1)" font-size="14" text-anchor="middle" stroke-width="0.2" style="fill:#15130a;stroke:#15130a">NO BINDING</text>
</g>
<g transform="translate(357.9 292.7)">
<rect x="0" y="0" width="102" height="70.3" fill="#f3d92f" stroke="#3a3310" stroke-width="0.8"/>
<rect x="4.5" y="4.7" width="92.5" height="24.1" fill="#0c0c0c"/>
<text transform="translate(50.9 23.3) scale(1.040 1)" font-size="17.7" text-anchor="middle" stroke-width="0.3" font-weight="bold" style="fill:#f3d92f;stroke:none">CAUTION</text>
<text transform="translate(51 52.3) scale(1.030 1)" font-size="14" text-anchor="middle" stroke-width="0.2" style="fill:#15130a;stroke:#15130a">NO BINDING</text>
</g>
<g>
<text transform="translate(513.4 269.6) scale(1.080 1)" font-size="17.8" text-anchor="start" stroke-width="0.3">Experiment:</text>
<rect x="514.3" y="279.6" width="14.5" height="14.4" fill="#0a0a0a"/>
<text transform="translate(533.4 292.5) scale(1.070 1)" font-size="17.8" text-anchor="start" stroke-width="0.3">Stable nuclei</text>
<rect x="514.4" y="300.9" width="13.4" height="13.2" fill="#b4dc66"/>
<text transform="translate(533.6 314.8) scale(1.045 1)" font-size="17.8" text-anchor="start" stroke-width="0.3">Known nuclei</text>
<text transform="translate(510.2 344.8) scale(1.035 1)" font-size="17.8" text-anchor="start" stroke-width="0.3">Theory:</text>
<path d="M511 363.3H531.5" stroke="#db281d" stroke-width="1.6"/>
<circle cx="521" cy="363.3" r="4.1" fill="#db281d"/>
<rect x="537" y="356" width="13.5" height="14" fill="#fcbab8" stroke="#e0443a" stroke-width="1.1"/>
<text transform="translate(556.2 369.5) scale(1.060 1)" font-size="17.8" text-anchor="start" stroke-width="0.3">Drip lines</text>
</g>
<defs><clipPath id="ic"><rect x="41.6" y="9.5" width="640.4" height="76.5"/></clipPath></defs>
<g clip-path="url(#ic)">
<polygon points="41.6,86 60,76 75,66.6 100,52 119,41.2 138.1,30.7 157.2,22.2 176.3,15.5 195.7,9.5 260.7,9.5 252.6,14.2 237.3,21.9 230,29.4 218.2,33.2 208.7,35.1 199.1,37 189.6,40.3 180.1,44.6 172.4,47.9 165.8,53.6 157.2,59.3 145.7,65.6 134.3,70.8 122.9,75.1 111.4,79.7 100,83.2 92,86" fill="#e6e6e6" stroke="#222" stroke-width="0.7" stroke-dasharray="1.6 0.9"/>
</g>
<text transform="translate(158.6 50.3) rotate(-28.5) scale(1.055 1)" font-size="17.3" text-anchor="middle" stroke-width="0.25">β-stable</text>
<g clip-path="url(#ic)" stroke="#3b3a1a" stroke-width="0.6">
<rect x="120" y="20.3" width="4.7" height="4.7" fill="#f2e33c"/>
<rect x="120" y="25" width="4.7" height="4.7" fill="#f2e33c"/>
<rect x="124.7" y="25" width="4.7" height="4.7" fill="#f2e33c"/>
<rect x="105.9" y="29.7" width="4.7" height="4.7" fill="#f2e33c"/>
<rect x="110.6" y="29.7" width="4.7" height="4.7" fill="#f2e33c"/>
<rect x="115.3" y="29.7" width="4.7" height="4.7" fill="#f2e33c"/>
<rect x="120" y="29.7" width="4.7" height="4.7" fill="#f2e33c"/>
<rect x="124.7" y="29.7" width="4.7" height="4.7" fill="#f2e33c"/>
<rect x="101.2" y="34.4" width="4.7" height="4.7" fill="#f2e33c"/>
<rect x="105.9" y="34.4" width="4.7" height="4.7" fill="#f2e33c"/>
<rect x="110.6" y="34.4" width="4.7" height="4.7" fill="#f2e33c"/>
<rect x="115.3" y="34.4" width="4.7" height="4.7" fill="#f2e33c"/>
<rect x="91.8" y="39.1" width="4.7" height="4.7" fill="#f2e33c"/>
<rect x="96.5" y="39.1" width="4.7" height="4.7" fill="#f2e33c"/>
<rect x="101.2" y="39.1" width="4.7" height="4.7" fill="#f2e33c"/>
<rect x="105.9" y="39.1" width="4.7" height="4.7" fill="#f2e33c"/>
<rect x="110.6" y="39.1" width="4.7" height="4.7" fill="#f2e33c"/>
<rect x="115.3" y="39.1" width="4.7" height="4.7" fill="#f2e33c"/>
<rect x="87.1" y="43.8" width="4.7" height="4.7" fill="#f2e33c"/>
<rect x="91.8" y="43.8" width="4.7" height="4.7" fill="#f2e33c"/>
<rect x="96.5" y="43.8" width="4.7" height="4.7" fill="#f2e33c"/>
<rect x="101.2" y="43.8" width="4.7" height="4.7" fill="#f2e33c"/>
<rect x="105.9" y="43.8" width="4.7" height="4.7" fill="#f2e33c"/>
<rect x="68.3" y="43.8" width="4.7" height="4.7" fill="#fbf7c9"/>
<rect x="87.1" y="48.5" width="4.7" height="4.7" fill="#f2e33c"/>
<rect x="105.9" y="48.5" width="4.7" height="4.7" fill="#f2e33c"/>
<rect x="91.8" y="48.5" width="4.7" height="4.7" fill="#a8d24a"/>
<rect x="101.2" y="48.5" width="4.7" height="4.7" fill="#a8d24a"/>
<rect x="96.5" y="48.5" width="4.7" height="4.7" fill="#c4d945"/>
<rect x="68.3" y="48.5" width="4.7" height="4.7" fill="#fbf7c9"/>
<rect x="77.7" y="53.2" width="4.7" height="4.7" fill="#f2e33c"/>
<rect x="82.4" y="53.2" width="4.7" height="4.7" fill="#f2e33c"/>
<rect x="91.8" y="53.2" width="4.7" height="4.7" fill="#f2e33c"/>
<rect x="87.1" y="53.2" width="4.7" height="4.7" fill="#a8d24a"/>
<rect x="96.5" y="53.2" width="4.7" height="4.7" fill="#a8d24a"/>
<rect x="49.5" y="53.2" width="4.7" height="4.7" fill="#fbf7c9"/>
<rect x="58.9" y="53.2" width="4.7" height="4.7" fill="#fbf7c9"/>
<rect x="77.7" y="57.9" width="4.7" height="4.7" fill="#f2e33c"/>
<rect x="87.1" y="57.9" width="4.7" height="4.7" fill="#a8d24a"/>
<rect x="96.5" y="57.9" width="4.7" height="4.7" fill="#a8d24a"/>
<rect x="44.8" y="57.9" width="4.7" height="4.7" fill="#fbf7c9"/>
<rect x="49.5" y="57.9" width="4.7" height="4.7" fill="#fbf7c9"/>
<rect x="58.9" y="57.9" width="4.7" height="4.7" fill="#fbf7c9"/>
<rect x="68.3" y="62.5" width="4.7" height="4.7" fill="#f2e33c"/>
<rect x="73" y="62.5" width="4.7" height="4.7" fill="#f2e33c"/>
<rect x="77.7" y="62.5" width="4.7" height="4.7" fill="#f2e33c"/>
<rect x="82.4" y="62.5" width="4.7" height="4.7" fill="#a8d24a"/>
<rect x="87.1" y="62.5" width="4.7" height="4.7" fill="#a8d24a"/>
<rect x="49.5" y="62.5" width="4.7" height="4.7" fill="#fbf7c9"/>
<rect x="68.3" y="67.2" width="4.7" height="4.7" fill="#f2e33c"/>
<rect x="77.7" y="67.2" width="4.7" height="4.7" fill="#f2e33c"/>
<rect x="87.1" y="67.2" width="4.7" height="4.7" fill="#a8d24a"/>
<rect x="40.1" y="67.2" width="4.7" height="4.7" fill="#fbf7c9"/>
<rect x="44.8" y="67.2" width="4.7" height="4.7" fill="#fbf7c9"/>
<rect x="49.5" y="67.2" width="4.7" height="4.7" fill="#fbf7c9"/>
<rect x="54.2" y="67.2" width="4.7" height="4.7" fill="#fbf7c9"/>
<rect x="58.9" y="67.2" width="4.7" height="4.7" fill="#fbf7c9"/>
<rect x="58.9" y="71.9" width="4.7" height="4.7" fill="#f2e33c"/>
<rect x="63.6" y="71.9" width="4.7" height="4.7" fill="#f2e33c"/>
<rect x="68.3" y="71.9" width="4.7" height="4.7" fill="#f2e33c"/>
<rect x="77.7" y="71.9" width="4.7" height="4.7" fill="#f2e33c"/>
<rect x="40.1" y="71.9" width="4.7" height="4.7" fill="#fbf7c9"/>
<rect x="44.8" y="71.9" width="4.7" height="4.7" fill="#fbf7c9"/>
<rect x="58.9" y="76.6" width="4.7" height="4.7" fill="#f2e33c"/>
<rect x="68.3" y="76.6" width="4.7" height="4.7" fill="#cfdc46"/>
<rect x="40.1" y="76.6" width="4.7" height="4.7" fill="#d5e79a"/>
<rect x="44.8" y="76.6" width="4.7" height="4.7" fill="#d5e79a"/>
<rect x="49.5" y="76.6" width="4.7" height="4.7" fill="#d5e79a"/>
<rect x="49.5" y="81.3" width="4.7" height="4.7" fill="#f5b7b0"/>
<rect x="54.2" y="81.3" width="4.7" height="4.7" fill="#f5b7b0"/>
<rect x="58.9" y="81.3" width="4.7" height="4.7" fill="#f5b7b0"/>
<rect x="68.3" y="81.3" width="4.7" height="4.7" fill="#a8d24a"/>
<rect x="40.1" y="81.3" width="4.7" height="4.7" fill="#d5e79a"/>
<rect x="44.8" y="81.3" width="4.7" height="4.7" fill="#d5e79a"/>
</g>
<g clip-path="url(#ic)">
<polygon points="40,49.5 48.2,42.3 58.4,38 68.6,32.8 78.8,27.7 87.6,24.1 93.4,19 99,13.5 104.2,10.5 113.9,10.8 116.5,13.2 116.5,13.2 113.9,15.6 104.2,15.5 100,18.5 94.9,24.1 87.6,31.4 78.8,36.5 68.6,41.6 58.4,46.7 52.1,51.7 48.2,54.5 44.8,59 40,66.3" fill="#fcbab8" stroke="#db281d" stroke-width="0.6"/>
</g>
<polyline points="39.5,57.8 48.9,49.7 58.1,43.1 67.5,38.1 76.6,33.2 85.7,28.2 95.2,21.8 104.2,13 113.9,13.2" fill="none" stroke="#db281d" stroke-width="1.4"/>
<path d="M39.5 67L44.8 59" stroke="#db281d" stroke-width="1"/>
<g fill="#db281d">
<circle cx="48.9" cy="49.7" r="3.4"/>
<circle cx="58.1" cy="43.1" r="3.4"/>
<circle cx="67.5" cy="38.1" r="3.4"/>
<circle cx="76.6" cy="33.2" r="3.4"/>
<circle cx="85.7" cy="28.2" r="3.4"/>
<circle cx="95.2" cy="21.8" r="3.4"/>
<circle cx="104.2" cy="13" r="3.4"/>
<circle cx="113.9" cy="13.2" r="3.4"/>
</g>
<g clip-path="url(#ic)">
<polygon points="410.5,86 431.5,71.2 470.1,61.2 471.2,50.2 486.9,40.9 481.8,30.4 502.8,22.2 530.8,15.2 553,9.5 682,9.5 641.8,16.4 599.7,24.5 571.7,32.7 552.2,42 551.8,50.2 537.8,65.4 521.5,80.6 519.6,86" fill="#fcbab8" stroke="#db281d" stroke-width="0.6"/>
<polyline points="462,88 468.7,81.1 482.7,71.2 507,61.4 512.1,51.4 518,41.6 527.3,31.3 564.2,21.5 614.9,11.2" fill="none" stroke="#db281d" stroke-width="1.3"/>
</g>
<g fill="#db281d">
<circle cx="468.7" cy="81.1" r="3.4"/>
<circle cx="482.7" cy="71.2" r="3.4"/>
<circle cx="507" cy="61.4" r="3.4"/>
<circle cx="512.1" cy="51.4" r="3.4"/>
<circle cx="518" cy="41.6" r="3.4"/>
<circle cx="527.3" cy="31.3" r="3.4"/>
<circle cx="564.2" cy="21.5" r="3.4"/>
<circle cx="614.9" cy="11.2" r="3.4"/>
</g>
<rect x="41.6" y="9.5" width="640.4" height="76.5" fill="none" stroke="#222" stroke-width="1"/>
<path d="M49.4 86v5M141.7 86v5M234 86v5M326.3 86v5M418.6 86v5M510.9 86v5M603.2 86v5" stroke="#222" stroke-width="0.9" fill="none"/>
<text transform="translate(49.4 107.8) scale(1.085 1)" font-size="16.6" text-anchor="middle" stroke-width="0.3">160</text>
<text transform="translate(141.7 107.8) scale(1.085 1)" font-size="16.6" text-anchor="middle" stroke-width="0.3">180</text>
<text transform="translate(234 107.8) scale(1.085 1)" font-size="16.6" text-anchor="middle" stroke-width="0.3">200</text>
<text transform="translate(326.3 107.8) scale(1.085 1)" font-size="16.6" text-anchor="middle" stroke-width="0.3">220</text>
<text transform="translate(418.6 107.8) scale(1.085 1)" font-size="16.6" text-anchor="middle" stroke-width="0.3">240</text>
<text transform="translate(510.9 107.8) scale(1.085 1)" font-size="16.6" text-anchor="middle" stroke-width="0.3">260</text>
<text transform="translate(603.2 107.8) scale(1.085 1)" font-size="16.6" text-anchor="middle" stroke-width="0.3">280</text>
<text transform="translate(36.3 16) scale(1.070 1)" font-size="16.5" text-anchor="end" stroke-width="0.3">120</text>
<text transform="translate(36.3 75.8) scale(1.070 1)" font-size="16.5" text-anchor="end" stroke-width="0.3">108</text>
</svg></body></html>
